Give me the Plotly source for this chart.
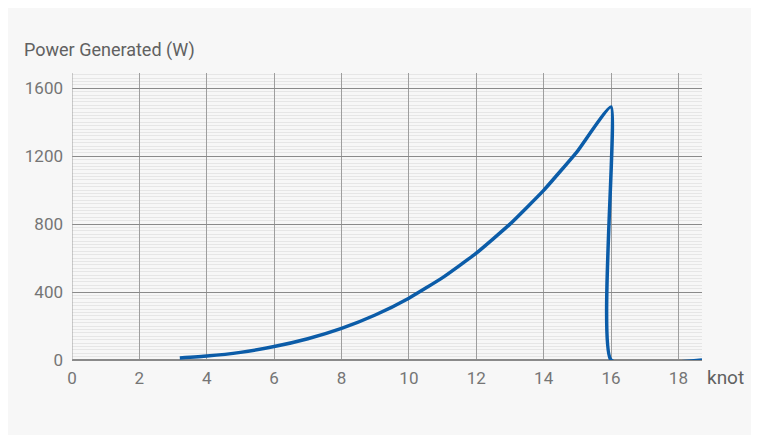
import plotly.graph_objects as go

speed_knot = [3.2, 4, 5, 6, 7, 8, 9, 10, 11, 12, 13, 14, 15, 16, 16, 18.7]
power_w = [12, 23, 45, 79, 125, 186, 265, 364, 485, 629, 800, 999, 1229, 1490, 0, 0]
x_ticks = [0, 2, 4, 6, 8, 10, 12, 14, 16, 18]
y_ticks = [0, 400, 800, 1200, 1600]

fig = go.Figure(go.Scatter(x=speed_knot, y=power_w, mode="lines",
                           line=dict(color="#0b5ca8", width=3.5, shape="spline", smoothing=0.4),
                           hoverinfo="skip"))
font = dict(family="Roboto", color="#757575", size=17)
fig.update_layout(
    width=759, height=435, showlegend=False,
    paper_bgcolor="#f7f7f7", plot_bgcolor="#f7f7f7",
    margin=dict(l=64, r=65, t=65, b=83),
    font=font,
    annotations=[
        dict(text="Power Generated (W)", x=0, xref="paper", xanchor="left", xshift=-50,
             y=1, yref="paper", yanchor="bottom", yshift=10, showarrow=False,
             font=dict(family="Roboto", size=18, color="#616161")),
        dict(text="knot", x=1, xref="paper", xanchor="left", xshift=3,
             y=0, yref="paper", yanchor="top", yshift=-4, showarrow=False,
             font=dict(family="Roboto", size=19, color="#616161")),
    ],
)
fig.update_xaxes(range=[0, 18.7], tickvals=x_ticks, showgrid=True, gridcolor="#9e9e9e",
                 gridwidth=1, zeroline=False, showline=False, ticks="", ticklabelstandoff=6)
fig.update_yaxes(range=[0, 1690], tickvals=y_ticks, showgrid=True, gridcolor="#8a8a8a",
                 gridwidth=1, zeroline=True, zerolinecolor="#8a8a8a", showline=False,
                 ticks="", ticklabelstandoff=8,
                 minor=dict(dtick=20, showgrid=True, gridcolor="#e6e6e6", gridwidth=1))
fig.add_shape(type="line", xref="x", yref="paper", x0=0, x1=0, y0=0, y1=1,
              line=dict(color="#9e9e9e", width=1))
fig.write_html("out.html")
